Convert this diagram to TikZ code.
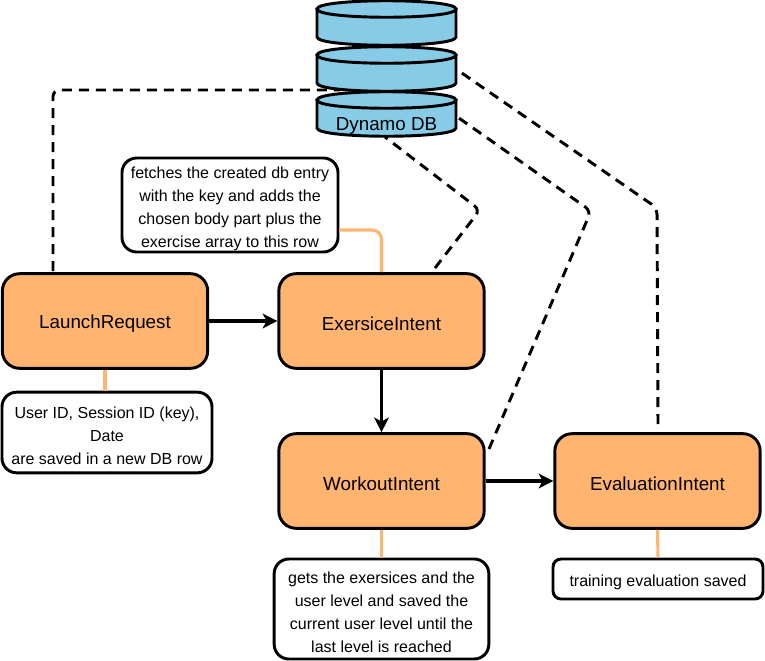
\documentclass[tikz,border=0pt]{standalone}
\usepackage{fontspec}
\setmainfont{Liberation Sans}
\usetikzlibrary{arrows.meta}
\definecolor{boxorange}{HTML}{FFB570}
\definecolor{dbblue}{HTML}{88CBE6}
\newcommand{\tp}{\rule{0pt}{14pt}}
\tikzset{
  x=0.75pt,y=-0.75pt,
  intent/.style={draw=black,line width=2.2pt,fill=boxorange,rounded corners=13pt,minimum width=154pt,minimum height=71pt,inner sep=0pt,font=\fontsize{14.1}{16}\selectfont,align=center},
  note/.style={draw=black,line width=2.2pt,fill=white,rounded corners=11pt,inner sep=0pt,font=\fontsize{12}{17.2}\selectfont,align=center},
  flow/.style={draw=black,line width=2.3pt,-{Stealth[length=11pt,width=11pt,inset=3pt]}},
  dbl/.style={draw=black,line width=2.2pt,dash pattern=on 7.5pt off 5.25pt,rounded corners=5pt},
  link/.style={draw=boxorange,line width=2.3pt,rounded corners=7pt},
  dbpart/.style={draw=black,line width=2.2pt,fill=dbblue},
}
\newcommand{\dbdisc}[1]{%
  \path[dbpart] (317,#1+8) -- (317,#1+36) .. controls (317,#1+47) and (456,#1+47) .. (456,#1+36) -- (456,#1+8) -- cycle;
  \path[dbpart] (317,#1+8) .. controls (317,#1-3) and (456,#1-3) .. (456,#1+8) .. controls (456,#1+19) and (317,#1+19) .. (317,#1+8) -- cycle;
}
\begin{document}
\begin{tikzpicture}
\useasboundingbox (0,0) rectangle (765,661);
% free ends of the dashed links
\coordinate (dbL) at (340,90);
\coordinate (dbE) at (385,137);
\coordinate (dbW) at (456,116);
\coordinate (dbV) at (456,69);
\coordinate (bendE) at (480,210);
\coordinate (bendW) at (591,211);
\coordinate (bendV) at (657,208);
\coordinate (bendL) at (53,90);
\coordinate (outL) at (53,271);
\coordinate (outE) at (435,268);
\coordinate (outW) at (489,449);
\coordinate (outV) at (658,424);
% dashed links
\draw[dbl] (outL) -- (bendL) -- (dbL);
\draw[dbl] (outE) -- (bendE) -- (dbE);
\draw[dbl] (outW) -- (bendW) -- (dbW);
\draw[dbl] (outV) -- (bendV) -- (dbV);
% database
\dbdisc{1}
\dbdisc{47}
\dbdisc{92}
\node[font=\fontsize{14.1}{16}\selectfont] (dbname) at (386.5,123) {\tp Dynamo DB};
% intents
\node[intent] (launch) at (105,321) {\tp LaunchRequest};
\node[intent] (exer) at (381.5,321) {\tp ExersiceIntent};
\node[intent] (work) at (381.5,481) {\tp WorkoutIntent};
\node[intent] (eval) at (657.5,481) {\tp EvaluationIntent};
% notes
\node[note,minimum width=162pt,minimum height=70.5pt] (nE) at (230,205) {\tp fetches the created db entry\\with the key and adds the\\chosen body part plus the\\exercise array to this row};
\node[note,minimum width=157.5pt,minimum height=60.5pt] (nL) at (107,432.5) {\tp User ID, Session ID (key),\\Date\\are saved in a new DB row};
\node[note,minimum width=161pt,minimum height=75pt] (nW) at (381.5,609) {\tp gets the exersices and the\\user level and saved the\\current user level until the\\last level is reached};
\node[note,minimum width=157.5pt,minimum height=30pt,rounded corners=6pt] (nV) at (658,579) {\tp training evaluation saved};
% orange links
\coordinate (nEr) at (nE.east |- 0,230);
\coordinate (exT) at (exer.north);
\draw[link] (nEr) -| (exT);
\draw[link] (launch.south) -- (launch.south |- nL.north);
\draw[link] (work.south) -- (nW.north);
\draw[link] (eval.south) -- (nV.north);
% flow
\draw[flow] (launch) -- (exer);
\draw[flow] (exer) -- (work);
\draw[flow] (work) -- (eval);
\end{tikzpicture}
\end{document}
